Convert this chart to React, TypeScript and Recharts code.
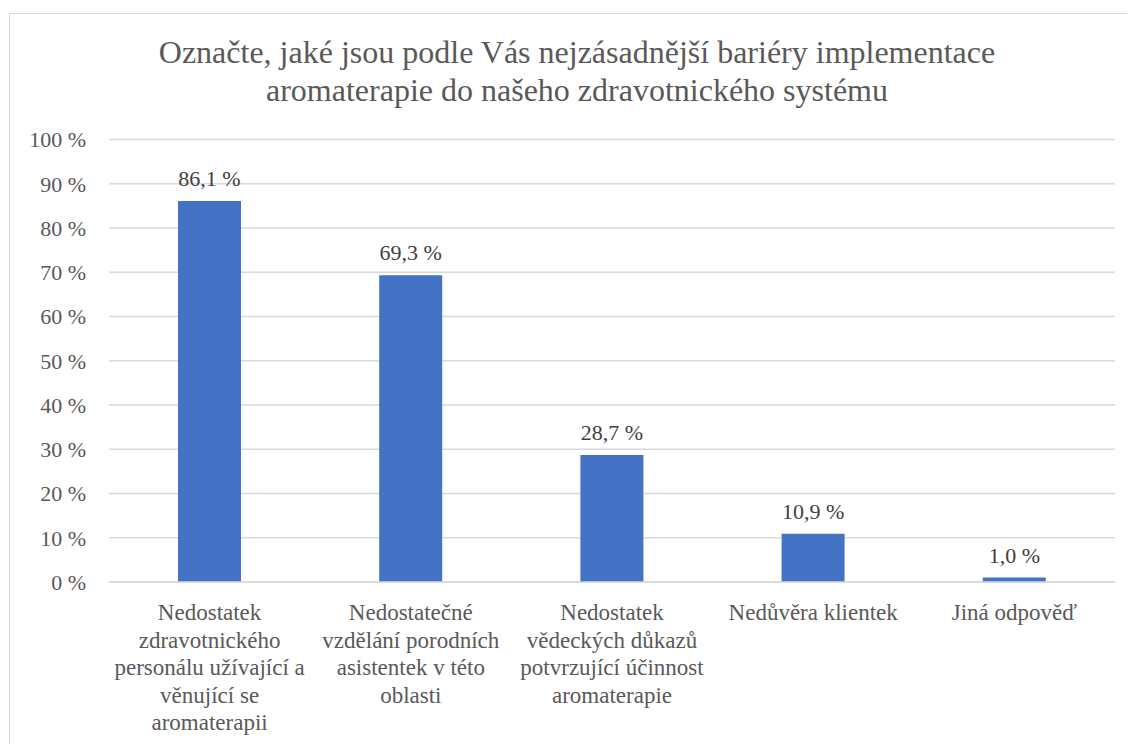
import { Bar, BarChart, CartesianGrid, LabelList, XAxis, YAxis } from "recharts";

const categories: string[] = [
  "Nedostatek\nzdravotnického\npersonálu užívající a\nvěnující se\naromaterapii",
  "Nedostatečné\nvzdělání porodních\nasistentek v této\noblasti",
  "Nedostatek\nvědeckých důkazů\npotvrzující účinnost\naromaterapie",
  "Nedůvěra klientek",
  "Jiná odpověď",
];
const shares: number[] = [86.1, 69.3, 28.7, 10.9, 1.0];
const yTicks: number[] = [0, 10, 20, 30, 40, 50, 60, 70, 80, 90, 100];

const TITLE_LINES = [
  "Označte, jaké jsou podle Vás nejzásadnější bariéry implementace",
  "aromaterapie do našeho zdravotnického systému",
];

const FONT = "Liberation Serif, Tinos, DejaVu Serif, serif";
const AXIS_GREY = "#595959";
const LABEL_GREY = "#404040";
const GRID = "#d9d9d9";
const BAR_BLUE = "#4472C4";

const data = categories.map((name, i) => ({ name, value: shares[i] }));

const pct = (v: number) => `${v.toFixed(1).replace(".", ",")} %`;

/** Category labels are broken onto lines the way the source chart wraps them. */
function CategoryTick({ x, y, payload }: any) {
  const lines = String(payload.value).split("\n");
  return (
    <text x={x} y={y} textAnchor="middle" fill={AXIS_GREY} fontSize={23} style={{ fontFamily: FONT }}>
      {lines.map((line, i) => (
        <tspan key={i} x={x} dy={i === 0 ? 30 : 27.5}>
          {line}
        </tspan>
      ))}
    </text>
  );
}

export default function App() {
  return (
    <div style={{ paddingLeft: 1, paddingTop: 5, fontFamily: FONT }}>
      <div
        style={{
          position: "relative",
          width: 1125,
          height: 730,
          borderLeft: `1.5px solid ${GRID}`,
          borderTop: `1.5px solid ${GRID}`,
          background: "#fff",
        }}
      >
        <div
          style={{
            position: "absolute",
            left: 0,
            top: 19,
            width: 1134,
            textAlign: "center",
            fontSize: 32,
            lineHeight: "38px",
            color: AXIS_GREY,
          }}
        >
          {TITLE_LINES.map((t) => (
            <div key={t}>{t}</div>
          ))}
        </div>
        <div style={{ position: "absolute", left: 0, top: 0 }}>
          <BarChart
            width={1125}
            height={730}
            data={data}
            style={{ fontFamily: FONT }}
            margin={{ top: 125.5, right: 20, left: 0, bottom: 12 }}
          >
            <CartesianGrid stroke={GRID} strokeWidth={1.5} vertical={false} />
            <XAxis
              dataKey="name"
              height={150}
              interval={0}
              axisLine={{ stroke: GRID, strokeWidth: 1.5 }}
              tickLine={false}
              tick={<CategoryTick />}
            />
            <YAxis
              domain={[0, 100]}
              ticks={yTicks}
              width={99}
              axisLine={false}
              tickLine={false}
              tickMargin={17}
              tickFormatter={(v: number) => `${v} %`}
              tick={{ fontSize: 22, fill: AXIS_GREY, style: { fontFamily: FONT } }}
            />
            <Bar dataKey="value" fill={BAR_BLUE} barSize={63} isAnimationActive={false}>
              <LabelList
                dataKey="value"
                position="top"
                offset={15}
                formatter={(v: any) => pct(Number(v))}
                style={{ fontSize: 22, fill: LABEL_GREY, fontFamily: FONT }}
              />
            </Bar>
          </BarChart>
        </div>
      </div>
    </div>
  );
}
